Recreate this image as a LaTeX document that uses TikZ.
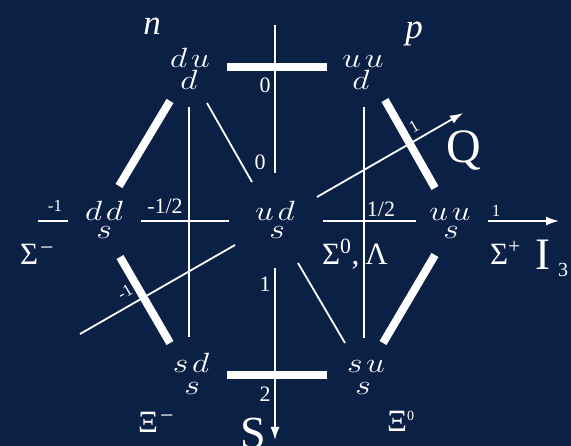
\RequirePackage{fix-cm}
\documentclass[tikz,border=0pt]{standalone}
\usepackage{graphicx}
\usepackage{fontspec}
\setmainfont{Liberation Serif}
\usetikzlibrary{arrows.meta}
\definecolor{bg}{RGB}{11,32,69}
\newcommand{\quarktext}[1]{\scalebox{1.35}[1.12]{$#1$}}
\newcommand{\supminus}{\hspace{2pt}\raisebox{9pt}{\fontsize{24}{24}\selectfont −}}
\begin{document}
\begin{tikzpicture}[x=1pt,y=-1pt,
  quark/.style={font=\fontsize{24.88}{28}\selectfont, anchor=base, inner sep=0pt, text=white},
  bigit/.style={font=\fontsize{35}{40}\selectfont\itshape, anchor=base, inner sep=0pt, text=white},
  hadron/.style={font=\fontsize{31}{34}\selectfont, anchor=base west, inner sep=0pt, text=white},
  axlab/.style={font=\fontsize{45}{50}\selectfont, anchor=base west, inner sep=0pt, text=white},
  slab/.style={font=\fontsize{22}{24}\selectfont, inner sep=0pt, text=white},
  hlab/.style={font=\fontsize{22}{24}\selectfont, anchor=base, inner sep=0pt, text=white},
  tlab/.style={font=\fontsize{17}{19}\selectfont, inner sep=0pt, text=white},
  thickline/.style={line width=8pt, white},
  thinline/.style={line width=1.8pt, white},
  axisline/.style={line width=1.8pt, white},
  arr/.style={-{Latex[length=13pt,width=9pt]}}
]
\useasboundingbox (0,0) rectangle (571,446);
\fill[bg] (0,0) rectangle (571,446);

% quark content nodes
\node[quark] (nA) at (190,68) {\quarktext{d\mkern2mu u}};
\node[quark] (nB) at (189,90) {\quarktext{d}};
\node[quark] (pA) at (363,68) {\quarktext{u\mkern2mu u}};
\node[quark] (pB) at (361,90) {\quarktext{d}};
\node[quark] (smA) at (104,221) {\quarktext{d\mkern2mu d}};
\node[quark] (smB) at (104,239) {\quarktext{s}};
\node[quark] (cA) at (275,221) {\quarktext{u\mkern2mu d}};
\node[quark] (cB) at (277,239) {\quarktext{s}};
\node[quark] (spA) at (450,221) {\quarktext{u\mkern2mu u}};
\node[quark] (spB) at (451,239) {\quarktext{s}};
\node[quark] (xmA) at (191,373) {\quarktext{s\mkern2mu d}};
\node[quark] (xmB) at (192,395) {\quarktext{s}};
\node[quark] (x0A) at (366,373) {\quarktext{s\mkern2mu u}};
\node[quark] (x0B) at (363,395) {\quarktext{s}};

% particle names
\node[bigit] (nlab) at (152,35) {n};
\node[bigit] (plab) at (414,39) {p};
\node[hadron] (sigm) at (20,265) {Σ\supminus};
\node[hadron] (sig0) at (322,265) {Σ\textsuperscript{0},\hspace{6pt}Λ};
\node[hadron] (sigp) at (490,265) {Σ\textsuperscript{+}};
\node[hadron] (xim) at (138,433) {Ξ\supminus};
\node[hadron] (xi0) at (387,432) {Ξ\textsuperscript{\fontsize{14}{14}\selectfont 0}};

% axis names
\node[axlab] (I3) at (535,270) {I\hspace{8pt}\raisebox{-7pt}{\fontsize{20}{20}\selectfont 3}};
\node[font=\fontsize{46}{50}\selectfont, anchor=base, inner sep=0pt, text=white] (Slab) at (253,449) {S};
\node[font=\fontsize{48}{50}\selectfont, anchor=base west, inner sep=0pt, text=white] (Qlab) at (446,163) {Q};

% S axis labels
\node[slab] (s0a) at (265,85) {0};
\node[slab] (s0b) at (260,162) {0};
\node[slab] (s1) at (265,284) {1};
\node[slab] (s2) at (265,394) {2};

% I3 axis labels
\node[hlab] (ihm) at (165,214) {-1/2};
\node[hlab] (ihp) at (381,217) {1/2};
\node[tlab, anchor=base] (i1m) at (55,212) {-1};
\node[tlab, anchor=base] (i1p) at (496,217) {1};

% Q axis labels
\node[tlab, rotate=30] (q1p) at (414,127) {1};
\node[tlab, rotate=30] (q1m) at (125,292) {-1};

% coordinates
\coordinate (Stop) at (275,25);
\coordinate (Smid) at (275,173);
\coordinate (Slow) at (275,268);
\coordinate (Stip) at (275,440);
\coordinate (TbL) at (227,67);
\coordinate (TbR) at (327,67);
\coordinate (BbL) at (227,375);
\coordinate (BbR) at (327,375);
\coordinate (H1a) at (38,221);
\coordinate (H1b) at (68,221);
\coordinate (H2a) at (141,221);
\coordinate (H2b) at (229,221);
\coordinate (H3a) at (323,221);
\coordinate (H3b) at (416,221);
\coordinate (H4a) at (488,221);
\coordinate (H4b) at (559,221);
\coordinate (VLa) at (189,107);
\coordinate (VLb) at (189,337);
\coordinate (VRa) at (364,107);
\coordinate (VRb) at (364,338);
\coordinate (D1a) at (207,103);
\coordinate (D1b) at (252,182);
\coordinate (D2a) at (298,263);
\coordinate (D2b) at (345,343);
\coordinate (K1a) at (170,101);
\coordinate (K1b) at (119,186);
\coordinate (K2a) at (385,100);
\coordinate (K2b) at (435,188);
\coordinate (K3a) at (120,257);
\coordinate (K3b) at (170,343);
\coordinate (K4a) at (435,255);
\coordinate (K4b) at (383,343);
\coordinate (Q1a) at (80,334);
\coordinate (Q1b) at (235,245);
\coordinate (Q2a) at (317,197);
\coordinate (Q2b) at (463,113);

% S axis
\draw[axisline] (Stop) -- (Smid);
\draw[axisline, arr] (Slow) -- (Stip);
\draw[thickline] (TbL) -- (TbR);
\draw[thickline] (BbL) -- (BbR);

% I3 axis
\draw[axisline] (H1a) -- (H1b);
\draw[axisline] (H2a) -- (H2b);
\draw[axisline] (H3a) -- (H3b);
\draw[axisline, arr] (H4a) -- (H4b);

% vertical thin lines
\draw[thinline] (VLa) -- (VLb);
\draw[thinline] (VRa) -- (VRb);

% thin diagonals
\draw[thinline] (D1a) -- (D1b);
\draw[thinline] (D2a) -- (D2b);

% thick diagonals
\draw[thickline] (K1a) -- (K1b);
\draw[thickline] (K2a) -- (K2b);
\draw[thickline] (K3a) -- (K3b);
\draw[thickline] (K4a) -- (K4b);

% Q axis
\draw[axisline] (Q1a) -- (Q1b);
\draw[axisline, arr] (Q2a) -- (Q2b);
\end{tikzpicture}
\end{document}
